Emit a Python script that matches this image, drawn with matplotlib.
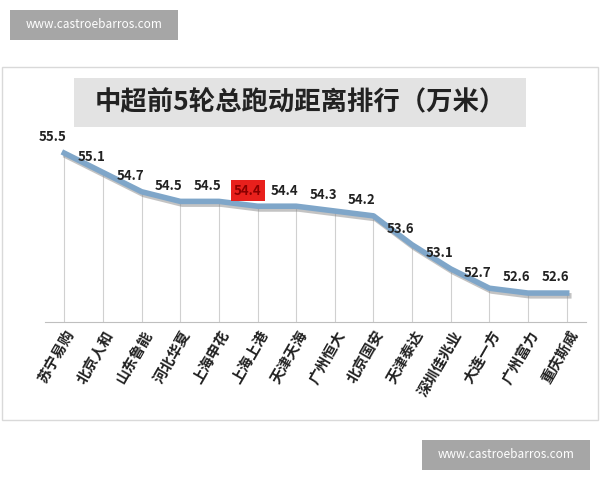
import matplotlib
matplotlib.use("Agg")
import matplotlib.pyplot as plt
from matplotlib.patches import Rectangle
import matplotlib.patheffects as pe

plt.rcParams['font.family'] = ['Noto Sans CJK SC', 'DejaVu Sans']

teams = ["苏宁易购", "北京人和", "山东鲁能", "河北华夏", "上海申花", "上海上港", "天津天海",
         "广州恒大", "北京国安", "天津泰达", "深圳佳兆业", "大连一方", "广州富力", "重庆斯威"]
values = [55.5, 55.1, 54.7, 54.5, 54.5, 54.4, 54.4, 54.3, 54.2, 53.6, 53.1, 52.7, 52.6, 52.6]
highlight = 5
title = "中超前5轮总跑动距离排行（万米）"
watermark = "www.castroebarros.com"

W, H = 600, 480
fig = plt.figure(figsize=(6, 4.8), dpi=100)
fig.patch.set_facecolor("white")

def box(x0, y0, x1, y1, **kw):
    fig.patches.append(Rectangle((x0 / W, 1 - y1 / H), (x1 - x0) / W, (y1 - y0) / H,
                                 transform=fig.transFigure, zorder=-5, **kw))

# chart frame
box(2, 67, 598, 420, facecolor="white", edgecolor="#d9d9d9", lw=1)
# title box
box(74, 78, 526, 127, facecolor="#e3e3e3", edgecolor="none")
fig.text(300 / W, 1 - 103 / H, title, ha="center", va="center", fontsize=19,
         fontweight="bold", color="#222222")
# watermarks
box(10, 10, 178, 40, facecolor="#a6a6a6", edgecolor="none")
fig.text(94 / W, 1 - 25 / H, watermark, ha="center", va="center", fontsize=8.5, color="white")
box(422, 440, 590, 470, facecolor="#a6a6a6", edgecolor="none")
fig.text(506 / W, 1 - 455 / H, watermark, ha="center", va="center", fontsize=8.5, color="white")

ax = fig.add_axes([45 / W, 1 - 322 / H, (586 - 45) / W, (322 - 129) / H])
ax.set_facecolor("none")
ax.set_zorder(2)
x = list(range(len(teams)))
ax.set_xlim(-0.5, len(teams) - 0.5)
ax.set_ylim(52, 56)
ax.vlines(x, 52, values, color="#d0d0d0", lw=0.8, zorder=1)
ax.plot(x, values, color="#7fa6c9", lw=4, zorder=3,
        path_effects=[pe.SimpleLineShadow(offset=(1.5, -2), shadow_color="#888888", alpha=0.5),
                      pe.Normal()])
for i, v in enumerate(values):
    tx, ty = i - 0.3, v + 0.18
    if i == highlight:
        ax.text(tx + 0.05, ty, f"{v}", ha="center", va="bottom", fontsize=9.5, color="#8a0000",
                fontweight="bold", bbox=dict(boxstyle="square,pad=0.25", fc="#e8201c", ec="none"))
    else:
        ax.text(tx, ty, f"{v}", ha="center", va="bottom", fontsize=9.5, color="#222222",
                fontweight="bold")
ax.set_xticks(x)
ax.set_xticklabels(teams, rotation=60, ha="right", rotation_mode="anchor", fontsize=10.5,
                   fontweight="bold", color="#222222")
ax.tick_params(axis="x", length=0, pad=4)
ax.set_yticks([])
for s in ["top", "right", "left"]:
    ax.spines[s].set_visible(False)
ax.spines["bottom"].set_color("#bfbfbf")

fig.savefig("out.png", dpi=100)
